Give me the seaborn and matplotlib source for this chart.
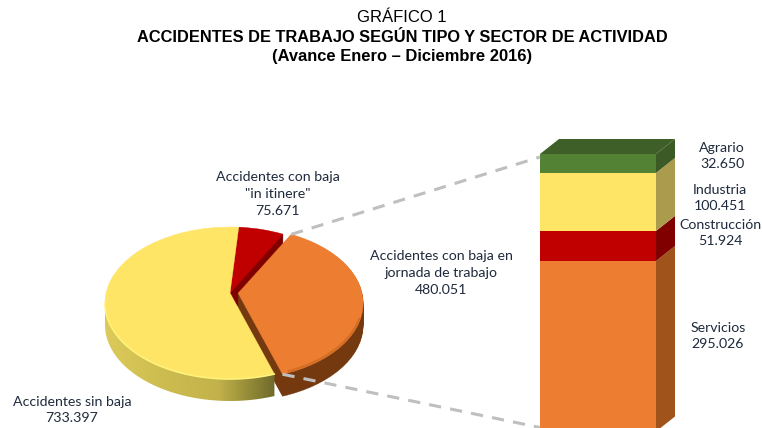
import numpy as np
import matplotlib
matplotlib.use("Agg")
import matplotlib.pyplot as plt
import seaborn as sns
from matplotlib.colors import LinearSegmentedColormap
from matplotlib.patches import ConnectionPatch, PathPatch
from matplotlib.path import Path

# Data
pie_labels = ['Accidentes sin baja', 'Accidentes con baja en\njornada de trabajo', 'Accidentes con baja\n"in itinere"']
pie_values = [733397, 480051, 75671]
pie_colors = ['#FFE566', '#ED7D31', '#C00000']

sector_names = ['Servicios', 'Construcción', 'Industria', 'Agrario']
sector_values = [295026, 51924, 100451, 32650]
sector_colors = ['#ED7D31', '#C00000', '#FFE566', '#548235']
sector_sides = ['#A0541C', '#800000', '#AB9B4D', '#3B5A25']

title_lines = ['GRÁFICO 1', 'ACCIDENTES DE TRABAJO SEGÚN TIPO Y SECTOR DE ACTIVIDAD', '(Avance Enero – Diciembre 2016)']

W, H = 762, 428
LABEL_FONT = 'Lato'
LABEL_COLOR = '#1F2A3C'


def fmt(v):
    return f"{v:,}".replace(",", ".")


def px_axes(fig, left, top, width, height):
    # axes placed in pixels, measured from the top left of the picture
    return fig.add_axes([left / W, 1 - (top + height) / H, width / W, height / H])


def tilted(wedge, lift):
    # moves the apex of a wedge upwards and leaves its rim in place (perspective)
    v = wedge.get_path().vertices.copy()
    r = np.hypot(*(v - wedge.center).T)
    v[:, 1] += lift * np.clip(1 - r, 0, 1)
    return Path(v, wedge.get_path().codes)


def shifted(path, dy):
    return Path(path.vertices + [0, dy], path.codes)


sns.set_theme(style='white')
fig = plt.figure(figsize=(W / 100, H / 100), dpi=100)

# ── Pie ───────────────────────────────────────────────────────────────────────
PIE_A, PIE_B = 125, 76          # radius in pixels, across and down
pie_ax = px_axes(fig, 230 - 2 * PIE_A, 303 - 2 * PIE_B, 4 * PIE_A, 4 * PIE_B)
start = 86
wedges, _ = pie_ax.pie(pie_values, colors=pie_colors, startangle=start,
                       explode=[0, 0.065, 0], wedgeprops={'linewidth': 0})
pie_ax.set_aspect('auto')
pie_ax.set_xlim(-2, 2)
pie_ax.set_ylim(-2, 2)
for w in wedges:
    w.set_visible(False)

lift = 10 / PIE_B
depth = 22 / PIE_B
faces = [tilted(w, lift) for w in wedges]

# sides of red and orange slices
for face, side in [(faces[2], '#800000'), (faces[1], '#75390F')]:
    for d in np.linspace(depth, 0.01, 24):
        pie_ax.add_patch(PathPatch(shifted(face, -d), fc=side, ec=side, lw=0.3, zorder=2))

# side of yellow slice, with its gradient
yellow_end = start + 360 * pie_values[0] / sum(pie_values)
th = np.radians(np.linspace(180, yellow_end, 120))
rim = np.column_stack([np.cos(th), np.sin(th)])
band = Path(np.vstack([rim, rim[::-1] - [0, depth], rim[:1]]))
side_cmap = LinearSegmentedColormap.from_list('side', ['#DCCB5A', '#CDBD50', '#C2B24A', '#6E6A2A'])
im = pie_ax.imshow(np.linspace(0, 1, 256)[None, :], cmap=side_cmap, aspect='auto', zorder=3,
                   extent=[-1, rim[:, 0].max(), -1.5, 0])
im.set_clip_path(band, transform=pie_ax.transData)
pie_ax.set_xlim(-2, 2)
pie_ax.set_ylim(-2, 2)

# top faces
for face, col, z in zip(faces, pie_colors, [5, 5, 4]):
    pie_ax.add_patch(PathPatch(face, fc=col, ec=col, lw=0.3, zorder=z))

# bevels along the rim
pie_ax.plot(rim[:, 0], rim[:, 1], color='#FFF27A', lw=1.2, zorder=6)
th2 = np.radians(np.linspace(-66, -12, 60))
pie_ax.plot(np.cos(th2) * 0.99 + wedges[1].center[0], np.sin(th2) * 0.98 + wedges[1].center[1],
            color='#D46E26', lw=1.6, zorder=6)

# ── Stacked column ────────────────────────────────────────────────────────────
total = sum(sector_values)
px_per_case = 277.5 / total
BAR_W, DX_PX, DY_PX = 116, 19, 15
bar_ax = px_axes(fig, 540, 154 - DY_PX, BAR_W + DX_PX, 277.5 + DY_PX)
bottom = 0
for val, col in zip(sector_values, sector_colors):
    sns.barplot(x=['Sector'], y=[val], bottom=bottom, color=col, saturation=1,
                width=0.8, linewidth=0, ax=bar_ax)
    bottom += val
dx = 0.8 * DX_PX / BAR_W
dy = DY_PX / px_per_case
bar_ax.set_xlim(-0.4, 0.4 + dx)
bar_ax.set_ylim(0, total + dy)
bar_ax.axis('off')

bottom = 0
for val, side in zip(sector_values, sector_sides):
    bar_ax.fill([0.4, 0.4 + dx, 0.4 + dx, 0.4],
                [bottom, bottom + dy, bottom + val + dy, bottom + val],
                color=side, lw=0, clip_on=False)
    bottom += val
bar_ax.fill([-0.4, 0.4, 0.4 + dx, -0.4 + dx], [total, total, total + dy, total + dy],
            color='#3E6028', lw=0, clip_on=False)

# ── Connectors ────────────────────────────────────────────────────────────────
orange_top = faces[1].vertices[np.argmax(faces[1].vertices[:, 1])]
orange_low = faces[1].vertices[np.argmin(faces[1].vertices[:, 1])]
for xy_a, xy_b in [(orange_top, (-0.4, total - 3 / px_per_case)), (orange_low, (-0.4, 4 / px_per_case))]:
    con = ConnectionPatch(xyA=xy_a, coordsA=pie_ax.transData, xyB=xy_b, coordsB=bar_ax.transData,
                          color='#BFBFBF', lw=2.2, linestyle=(0, (4, 3)), capstyle='butt', zorder=8)
    fig.add_artist(con)

# ── Text ──────────────────────────────────────────────────────────────────────
def label(x, y, s):
    fig.text(x / W, 1 - y / H, s, ha='center', va='center', fontsize=10.2, color=LABEL_COLOR,
             family=LABEL_FONT, linespacing=1.47)


for y, line, w, size in zip([18, 37, 57], title_lines, ['normal', 'bold', 'bold'], [12, 11.75, 11.9]):
    fig.text(402 / W, 1 - y / H, line, ha='center', va='center', fontsize=size, weight=w,
             family='Liberation Sans', color='black')

label(278, 194, f'{pie_labels[2]}\n{fmt(pie_values[2])}')
label(441, 273, f'{pie_labels[1]}\n{fmt(pie_values[1])}')
label(72, 410, f'{pie_labels[0]}\n{fmt(pie_values[0])}')
for name, val, x, y in zip(sector_names, sector_values, [718, 720, 720, 722], [336, 233, 198, 156]):
    label(x, y, f'{name}\n{fmt(val)}')

fig.savefig('out.png', dpi=100)
